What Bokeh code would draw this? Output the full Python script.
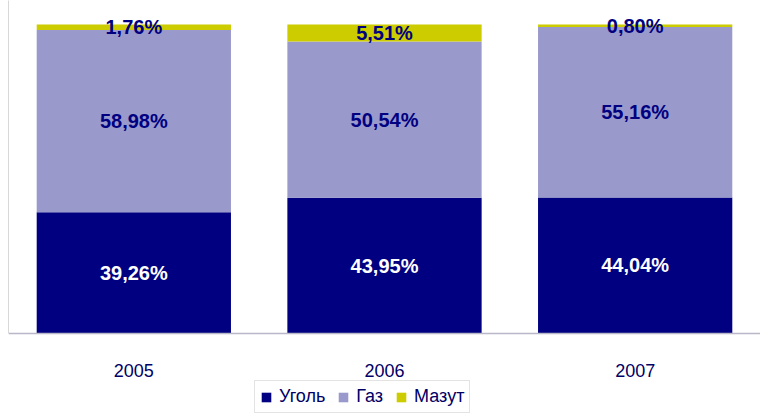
from bokeh.plotting import figure
from bokeh.models import ColumnDataSource, FactorRange, Range1d, Legend, LegendItem, FixedTicker
from bokeh.core.properties import value
from bokeh.embed import file_html
from bokeh.resources import INLINE

years = ["2005", "2006", "2007"]
coal = [39.26, 43.95, 44.04]
gas = [58.98, 50.54, 55.16]
mazut = [1.76, 5.51, 0.80]
series_names = ["Уголь", "Газ", "Мазут"]
colors = ["#000080", "#9999CC", "#CCCC00"]

src = ColumnDataSource(dict(year=years, coal=coal, gas=gas, mazut=mazut))

Y_TOP = 107.77
Y_BOTTOM = -26.21

p = figure(x_range=FactorRange(factors=years, range_padding=0),
           y_range=Range1d(Y_BOTTOM, Y_TOP),
           frame_width=752, frame_height=414, output_backend="svg", toolbar_location=None,
           min_border_left=8, min_border_right=0, min_border_top=0, min_border_bottom=0)
p.outline_line_color = None
p.xgrid.visible = False
p.ygrid.visible = False

rs = p.vbar_stack(["coal", "gas", "mazut"], x="year", width=0.775, color=colors,
                  line_color=None, source=src)

def fmt(v):
    return f"{v:.2f}%".replace(".", ",")

# label positions (centre of each segment)
lx, ly, lt, lc = [], [], [], []
for i, y in enumerate(years):
    base = 0.0
    for vals, col in ((coal, "white"), (gas, "#000080"), (mazut, "#000080")):
        v = vals[i]
        lx.append(y); ly.append(base + v / 2); lt.append(fmt(v)); lc.append(col)
        base += v
lsrc = ColumnDataSource(dict(x=lx, y=ly, t=lt, c=lc))
p.text(x="x", y="y", text="t", text_color="c", source=lsrc,
       text_align="center", text_baseline="middle",
       text_font=value("Liberation Sans"), text_font_style="bold",
       text_font_size="20px")

# axes
p.xaxis.fixed_location = 0
p.xaxis.axis_label = None
p.xaxis.axis_line_color = "#b8b8c8"
p.xaxis.axis_line_width = 1.5
p.xaxis.major_tick_line_color = None
p.xaxis.minor_tick_line_color = None
p.xaxis.major_tick_out = 0
p.xaxis.major_tick_in = 0
p.xaxis.minor_tick_out = 0
p.xaxis.major_label_standoff = 30
p.xaxis.major_label_text_font = "Liberation Sans"
p.xaxis.major_label_text_font_size = "18px"
p.xaxis.major_label_text_color = "#000066"

p.yaxis.axis_label = None
p.yaxis.bounds = (0, Y_TOP)
p.yaxis.ticker = FixedTicker(ticks=[])
p.yaxis.axis_line_color = "#d8d8d8"
p.yaxis.major_tick_line_color = None
p.yaxis.minor_tick_line_color = None
p.yaxis.major_tick_out = 0
p.yaxis.major_label_standoff = 0

legend = Legend(items=[LegendItem(label=n, renderers=[r]) for n, r in zip(series_names, rs)],
                orientation="horizontal", location=(246, 1),
                label_text_font="Liberation Sans", label_text_font_size="18px",
                label_text_color="#000066", glyph_width=12, glyph_height=12,
                label_standoff=7, spacing=12, padding=5, margin=0,
                border_line_color="#c8c8c8", label_height=20)
p.add_layout(legend, "center")

open("out.html", "w").write(file_html(p, INLINE))
